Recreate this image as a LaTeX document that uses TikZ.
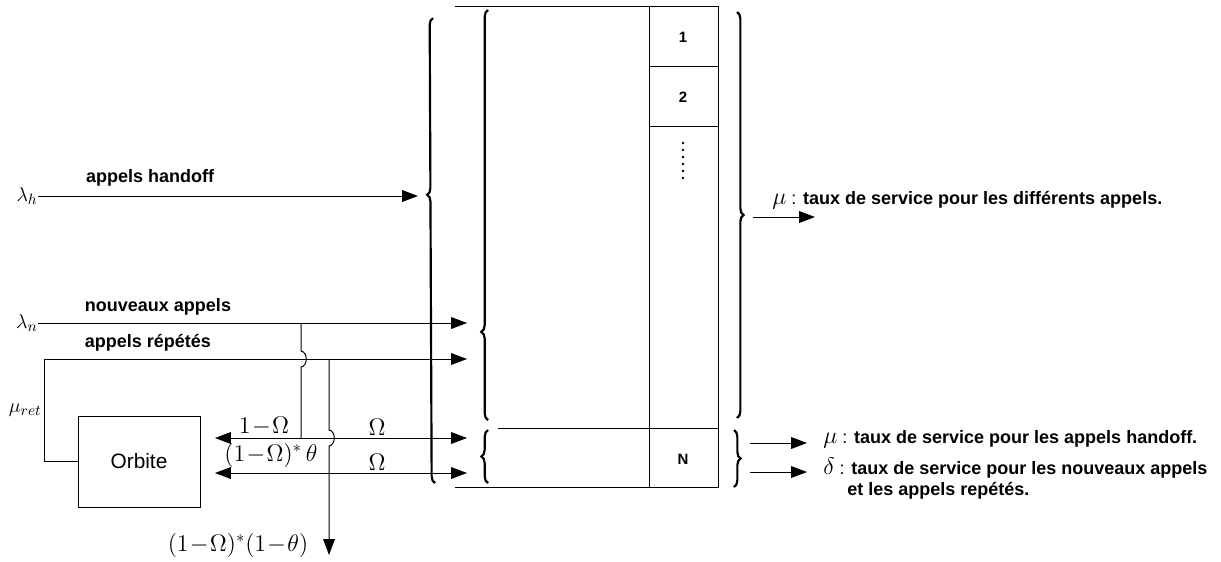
\documentclass[tikz,border=0pt]{standalone}
\usepackage{amsmath}
\usepackage{fontspec}
\setmainfont{Liberation Sans}
\usetikzlibrary{arrows.meta,decorations.pathreplacing}

\begin{document}
\begin{tikzpicture}[x=0.6pt,y=-0.6pt,>={Triangle[length=9.5pt,width=7pt]},
	flow/.style={line width=0.6pt},
	brc/.style={line width=1.3pt,decorate,decoration={brace,amplitude=4pt,aspect=#1}},
	brc/.default=0.5,
	lbl/.style={font=\bfseries\fontsize{10.8}{13}\selectfont,inner sep=0pt},
	sym/.style={font=\fontsize{14.5}{16}\selectfont,inner sep=0pt},
	greek/.style={font=\fontsize{12.5}{14}\selectfont,inner sep=0pt},
	num/.style={font=\bfseries\fontsize{9}{11}\selectfont,inner sep=0pt}]
	\useasboundingbox (0,0) rectangle (1221,561);
	% entrees
	\node[greek,anchor=east] (lh) at (38,196) {$\lambda_h$};
	\node[greek,anchor=east] (ln) at (38,323) {$\lambda_n$};
	\node[greek,anchor=east] (mret) at (42,410) {$\mu_{ret}$};
	\node[lbl] (hlab) at (150,178) {appels handoff};
	\node[lbl] (nlab) at (158,307) {nouveaux appels};
	\node[lbl] (rlab) at (148,343) {appels répétés};
	\node[draw,flow,minimum width=73.2pt,minimum height=54.6pt,font=\fontsize{12.5}{14}\selectfont] (orb) at (139,461.5) {Orbite};
	\coordinate (hin) at (418,196);
	\coordinate (nin) at (467,323);
	\coordinate (rin) at (467,359);
	\coordinate (jn) at (301,323);
	\coordinate (jr) at (329,359);
	\coordinate (o1) at (215,438);
	\coordinate (s1) at (467,438);
	\coordinate (o2) at (215,473);
	\coordinate (s2) at (467,473);
	\coordinate (lost) at (329,555);
	\draw[flow,->] (lh.east) -- (hin);
	\draw[flow,->] (ln.east) -- (nin);
	\draw[flow,->] (orb.west) -- (44,461.5) -- (44,359) -- (rin);
	\draw[flow] (jn) -- (301,351) .. controls (308,352) and (308,366) .. (301,367) -- (301,438);
	\draw[flow,->] (jr) -- (329,430) .. controls (336,431) and (336,445) .. (329,446) -- (lost);
	\draw[flow,<->] (o1) -- (s1);
	\draw[flow,<->] (o2) -- (s2);
	\node[sym] (p1) at (264,426) {$1\!-\!\Omega$};
	\node[sym] (q1) at (377,427) {$\Omega$};
	\node[sym] (p2) at (271,455) {$(1\!-\!\Omega)^{*}\,\theta$};
	\node[sym] (q2) at (377,462) {$\Omega$};
	\node[sym] (p3) at (238,545) {$(1\!-\!\Omega)^{*}(1\!-\!\theta)$};
	% serveurs
	\draw[flow] (455,6) -- (718,6) -- (718,487) -- (455,487);
	\draw[flow] (649,6) -- (649,487);
	\draw[flow] (649,66) -- (718,66);
	\draw[flow] (649,126) -- (718,126);
	\draw[flow] (498,428) -- (718,428);
	\node[num] (c1) at (683,37) {1};
	\node[num] (c2) at (683,97) {2};
	\foreach \y in {143,150,...,178}
		\fill (683,\y) circle (0.8pt);
	\node[num] (cN) at (683,459) {N};
	\draw[brc=0.62] (435,483) -- (433,18);
	\draw[brc=0.215] (488,420) -- (488,10);
	\draw[brc] (488,483) -- (488,430);
	\draw[brc] (737,12) -- (737,418);
	\draw[brc] (734,430) -- (734,487);
	% sorties
	\coordinate (m0) at (753,217);
	\coordinate (m1) at (815,217);
	\coordinate (a0) at (750,443);
	\coordinate (a1) at (807,443);
	\coordinate (b0) at (750,472);
	\coordinate (b1) at (807,472);
	\draw[flow,->] (m0) -- (m1);
	\draw[flow,->] (a0) -- (a1);
	\draw[flow,->] (b0) -- (b1);
	\node[lbl,anchor=west] (out1) at (772,200) {{\fontsize{14}{15}\selectfont$\mu$} {\mdseries:} taux de service pour les différents appels.};
	\node[lbl,anchor=west] (out2) at (823,439) {{\fontsize{14}{15}\selectfont$\mu$} {\mdseries:} taux de service pour les appels handoff.};
	\node[lbl,anchor=west] (out3) at (823,468) {{\fontsize{14}{15}\selectfont$\delta$} {\mdseries:} taux de service pour les nouveaux appels};
	\node[lbl,anchor=west] (out4) at (847,491) {et les appels repétés.};
\end{tikzpicture}
\end{document}
